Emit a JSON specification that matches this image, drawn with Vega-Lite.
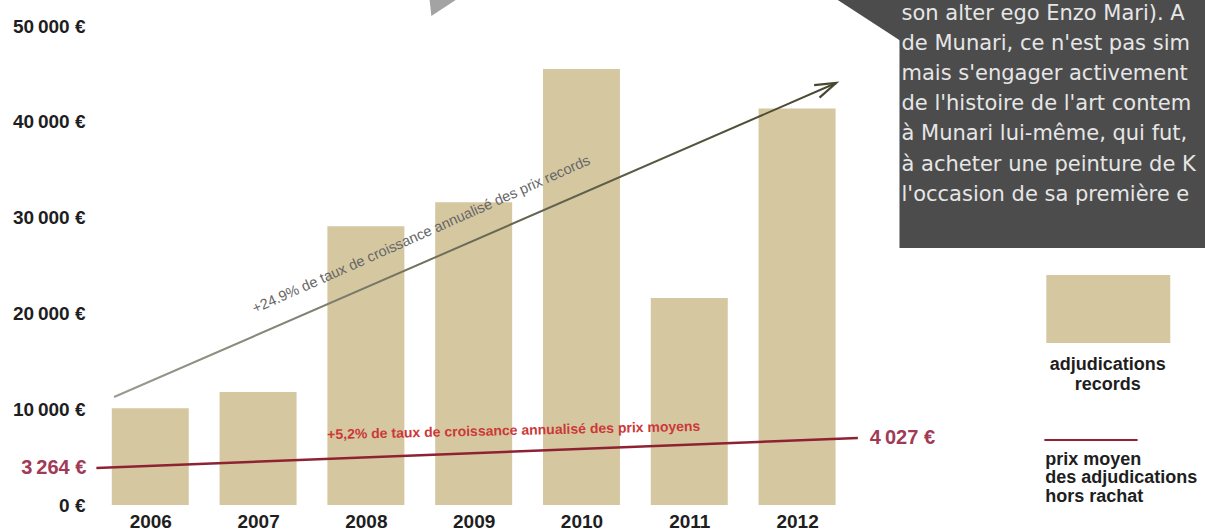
{
  "$schema": "https://vega.github.io/schema/vega-lite/v6.json",
  "width": 1205,
  "height": 505,
  "autosize": "none",
  "padding": {"left": 0, "top": 0, "right": 0, "bottom": 27},
  "background": "white",
  "config": {"view": {"stroke": null}, "font": "Liberation Sans"},
  "datasets": {
    "records": [
      {"annee": 2006, "montant": 10100},
      {"annee": 2007, "montant": 11800},
      {"annee": 2008, "montant": 29100},
      {"annee": 2009, "montant": 31600},
      {"annee": 2010, "montant": 45500},
      {"annee": 2011, "montant": 21600},
      {"annee": 2012, "montant": 41400}
    ],
    "tendance": [
      {"annee": 2005.664, "montant": 11270},
      {"annee": 2012.362, "montant": 44050}
    ],
    "prix": [
      {"annee": 2005.5, "montant": 3860, "libelle": "3\u2009264 €", "bout": "debut"},
      {"annee": 2012.564, "montant": 6990, "libelle": "4\u2009027 €", "bout": "fin"}
    ],
    "annot": [{"k": 1}]
  },
  "layer": [
    {
      "data": {"name": "records"},
      "mark": {"type": "bar", "size": 77, "color": "#d5c8a1", "orient": "vertical"},
      "encoding": {
        "x": {
          "field": "annee", "type": "quantitative",
          "scale": {"domain": [2004.6523, 2015.7378], "nice": false, "zero": false},
          "axis": {
            "values": [2006, 2007, 2008, 2009, 2010, 2011, 2012], "format": "d", "title": null,
            "domain": false, "ticks": false, "grid": false,
            "labelFont": "Liberation Sans", "labelFontWeight": "bold", "labelFontSize": 19,
            "labelColor": "#1e1e1e", "labelPadding": 7, "labelFlush": false, "labelOverlap": false
          }
        },
        "y": {
          "field": "montant", "type": "quantitative",
          "scale": {"domain": [0, 52714], "nice": false},
          "axis": {
            "values": [0, 10000, 20000, 30000, 40000, 50000],
            "labelExpr": "datum.value == 0 ? '0 €' : format(datum.value / 1000, 'd') + '\u2009000 €'",
            "title": null, "domain": false, "ticks": false, "tickSize": 0, "grid": false,
            "offset": -85, "labelPadding": 0, "labelAlign": "right", "labelBaseline": "middle",
            "labelFont": "Liberation Sans", "labelFontWeight": "bold", "labelFontSize": 19,
            "labelColor": "#1e1e1e", "labelFlush": false, "labelOverlap": false
          }
        }
      }
    },
    {
      "data": {"name": "annot"},
      "mark": {"type": "rect", "color": "#4c4c4c"},
      "encoding": {
        "x": {"datum": 2012.95, "type": "quantitative"}, "x2": {"datum": 2016.2},
        "y": {"datum": 52714, "type": "quantitative"}, "y2": {"datum": 26827}
      }
    },
    {
      "data": {"name": "annot"},
      "mark": {"type": "point", "shape": "M-1.476,-1L1.6,-1L1.6,1Z", "filled": true, "color": "#4c4c4c", "size": 1764, "opacity": 1, "strokeWidth": 0},
      "encoding": {"x": {"datum": 2012.665, "type": "quantitative"}, "y": {"datum": 50522, "type": "quantitative"}}
    },
    {
      "data": {"name": "annot"},
      "mark": {
        "type": "text", "align": "left", "baseline": "top", "font": "DejaVu Sans", "fontSize": 21,
        "lineHeight": 30.2, "color": "#e6e6e6",
        "text": ["son alter ego Enzo Mari). A", "de Munari, ce n'est pas sim", "mais s'engager activement", "de l'histoire de l'art contem", "à Munari lui-même, qui fut, ", "à acheter une peinture de K", "l'occasion de sa première e"]
      },
      "encoding": {"x": {"datum": 2012.969, "type": "quantitative"}, "y": {"datum": 52450, "type": "quantitative"}}
    },
    {
      "data": {"name": "annot"},
      "mark": {"type": "point", "shape": "M-1.875,-1.3L1.875,-1.3L-1.625,1Z", "filled": true, "color": "#a3a3a3", "size": 256, "opacity": 1, "strokeWidth": 0},
      "encoding": {"x": {"datum": 2008.728, "type": "quantitative"}, "y": {"datum": 51879, "type": "quantitative"}}
    },
    {
      "data": {"name": "tendance"},
      "mark": {
        "type": "line", "strokeWidth": 2,
        "stroke": {"gradient": "linear", "x1": 0, "y1": 0, "x2": 1, "y2": 0, "stops": [{"offset": 0, "color": "#9a9a90"}, {"offset": 0.5, "color": "#6a6a55"}, {"offset": 1, "color": "#474730"}]}
      },
      "encoding": {"x": {"field": "annee", "type": "quantitative"}, "y": {"field": "montant", "type": "quantitative"}}
    },
    {
      "data": {"name": "tendance"},
      "transform": [{"filter": "datum.annee > 2012"}],
      "mark": {"type": "point", "shape": "M-2,-0.65L0,0L-2,0.65", "filled": false, "color": "#474730", "strokeWidth": 2.2, "size": 441, "angle": -23.3, "opacity": 1},
      "encoding": {"x": {"field": "annee", "type": "quantitative"}, "y": {"field": "montant", "type": "quantitative"}}
    },
    {
      "data": {"name": "annot"},
      "mark": {
        "type": "text", "align": "center", "baseline": "middle", "angle": -24, "fontSize": 14.5,
        "color": "#666666", "text": "+24.9% de taux de croissance annualisé des prix records"
      },
      "encoding": {"x": {"datum": 2008.516, "type": "quantitative"}, "y": {"datum": 28184, "type": "quantitative"}}
    },
    {
      "data": {"name": "prix"},
      "mark": {"type": "line", "color": "#8e2233", "strokeWidth": 2.5},
      "encoding": {"x": {"field": "annee", "type": "quantitative"}, "y": {"field": "montant", "type": "quantitative"}}
    },
    {
      "data": {"name": "prix"},
      "transform": [{"filter": "datum.bout == 'debut'"}],
      "mark": {"type": "text", "align": "right", "baseline": "middle", "dx": -10, "fontSize": 20, "fontWeight": "bold", "color": "#a03a55"},
      "encoding": {"x": {"field": "annee", "type": "quantitative"}, "y": {"field": "montant", "type": "quantitative"}, "text": {"field": "libelle"}}
    },
    {
      "data": {"name": "prix"},
      "transform": [{"filter": "datum.bout == 'fin'"}],
      "mark": {"type": "text", "align": "left", "baseline": "middle", "dx": 12, "fontSize": 20, "fontWeight": "bold", "color": "#a03a55"},
      "encoding": {"x": {"field": "annee", "type": "quantitative"}, "y": {"field": "montant", "type": "quantitative"}, "text": {"field": "libelle"}}
    },
    {
      "data": {"name": "annot"},
      "mark": {
        "type": "text", "align": "center", "baseline": "middle", "angle": -1.3, "fontSize": 14,
        "fontWeight": "bold", "color": "#cc3838",
        "text": "+5,2% de taux de croissance annualisé des prix moyens"
      },
      "encoding": {"x": {"datum": 2009.372, "type": "quantitative"}, "y": {"datum": 7724, "type": "quantitative"}}
    },
    {
      "data": {"name": "annot"},
      "mark": {"type": "rect", "color": "#d5c8a1"},
      "encoding": {
        "x": {"datum": 2014.312, "type": "quantitative"}, "x2": {"datum": 2015.462},
        "y": {"datum": 24008, "type": "quantitative"}, "y2": {"datum": 16910}
      }
    },
    {
      "data": {"name": "annot"},
      "mark": {
        "type": "text", "align": "center", "baseline": "top", "fontSize": 18, "fontWeight": "bold",
        "lineHeight": 20, "color": "#1e1e1e", "text": ["adjudications", "records"]
      },
      "encoding": {"x": {"datum": 2014.882, "type": "quantitative"}, "y": {"datum": 15600, "type": "quantitative"}}
    },
    {
      "data": {"name": "annot"},
      "mark": {"type": "rule", "color": "#8e2233", "strokeWidth": 2},
      "encoding": {"x": {"datum": 2014.294, "type": "quantitative"}, "x2": {"datum": 2015.159}, "y": {"datum": 6785, "type": "quantitative"}}
    },
    {
      "data": {"name": "annot"},
      "mark": {
        "type": "text", "align": "left", "baseline": "top", "fontSize": 18, "fontWeight": "bold",
        "lineHeight": 18.5, "color": "#1e1e1e", "text": ["prix moyen", "des adjudications", "hors rachat"]
      },
      "encoding": {"x": {"datum": 2014.303, "type": "quantitative"}, "y": {"datum": 5637, "type": "quantitative"}}
    }
  ]
}
